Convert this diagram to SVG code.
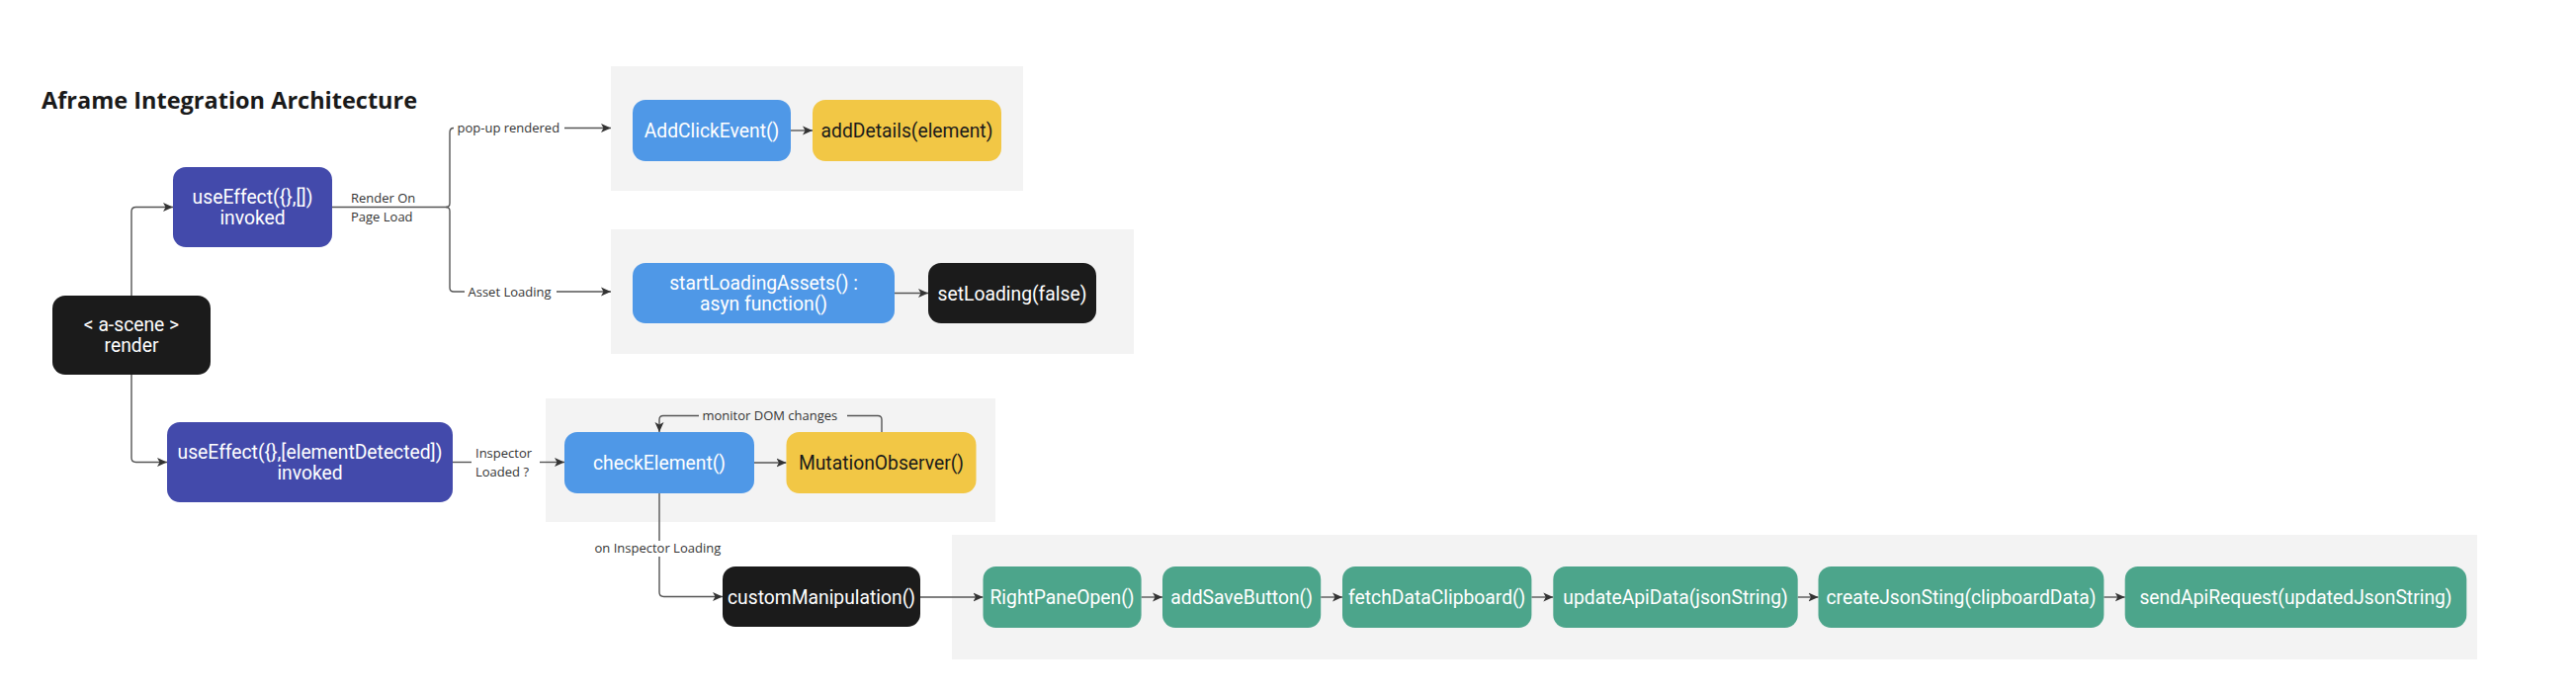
<svg xmlns="http://www.w3.org/2000/svg" width="2606" height="704" viewBox="0 0 2606 704">
<defs>
<style>
.bg{fill:#ffffff}
.cont{fill:#f3f3f3}
.node rect{rx:13;ry:13}
.purple{fill:#434aab}
.blue{fill:#4f98e7}
.yellow{fill:#f2c745}
.black{fill:#1b1b1b}
.green{fill:#4ca58b}
.nt{font-family:Roboto,"Liberation Sans",sans-serif;font-size:19.3px;fill:#ffffff;text-anchor:middle}
.dk{fill:#1a1a1a}
.lbl{font-family:"Open Sans","Noto Sans","Liberation Sans",sans-serif;font-size:13px;fill:#333333}
.title{font-family:"Open Sans","Noto Sans","Liberation Sans",sans-serif;font-size:23.5px;font-weight:bold;fill:#1a1a1a}
.conn path{fill:none;stroke:#555555;stroke-width:1.4}
.arr{marker-end:url(#ah)}
</style>
<marker id="ah" markerUnits="userSpaceOnUse" markerWidth="12" markerHeight="10" refX="10" refY="5" orient="auto">
<path d="M0,0.5 L10,5 L0,9.5 L2.5,5 Z" fill="#333333"/>
</marker>
</defs>
<rect class="bg" x="0" y="0" width="2606" height="704"/>

<g id="containers">
<rect class="cont" x="618" y="67" width="417" height="126"/>
<rect class="cont" x="618" y="232" width="529" height="126"/>
<rect class="cont" x="552" y="403" width="455" height="125"/>
<rect class="cont" x="963" y="541" width="1543" height="126"/>
</g>

<text id="title" class="title" x="42" y="110">Aframe Integration Architecture</text>

<g id="connectors" class="conn">
<path class="arr" d="M133,299 V214 Q133,209.5 137.5,209.5 H175"/>
<path class="arr" d="M133,379 V463 Q133,467.5 137.5,467.5 H169"/>
<path d="M336,209.5 H451 Q455,209.5 455,205.5 V134 Q455,129.5 459,129.5"/>
<path d="M451,209.5 Q455,209.5 455,213.5 V291 Q455,295 459,295 H470"/>
<path class="arr" d="M571,129.5 H618"/>
<path class="arr" d="M563,295 H618"/>
<path class="arr" d="M800,132 H822"/>
<path class="arr" d="M905,296.5 H939"/>
<path d="M458,467.5 H477"/>
<path class="arr" d="M546,467.5 H571"/>
<path class="arr" d="M763,468 H795.5"/>
<path d="M892,437 V424.5 Q892,420.5 888,420.5 H857"/>
<path class="arr" d="M707,420.5 H671 Q667,420.5 667,424.5 V437"/>
<path d="M667,499 V547"/>
<path class="arr" d="M667,563 V599 Q667,603.5 671.5,603.5 H731"/>
<path class="arr" d="M931,604 H994.5"/>
<path class="arr" d="M1154.6,604 H1176"/>
<path class="arr" d="M1336.2,604 H1358"/>
<path class="arr" d="M1549.4,604 H1571.3"/>
<path class="arr" d="M1818.7,604 H1839.5"/>
<path class="arr" d="M2128.4,604 H2149.7"/>
</g>

<g id="labels">
<text class="lbl" x="355" y="205">Render On</text>
<text class="lbl" x="355" y="224">Page Load</text>
<text class="lbl" x="462.5" y="134">pop-up rendered</text>
<text class="lbl" x="473.5" y="300">Asset Loading</text>
<text class="lbl" x="481" y="462.5">Inspector</text>
<text class="lbl" x="481" y="481.5">Loaded ?</text>
<text class="lbl" x="710.5" y="424.5">monitor DOM changes</text>
<text class="lbl" x="601.5" y="559">on Inspector Loading</text>
</g>

<g id="n-ascene" class="node">
<rect class="black" x="53" y="299" width="160" height="80"/>
<text class="nt" x="133" y="335">&lt; a-scene &gt;</text>
<text class="nt" x="133" y="356">render</text>
</g>
<g id="n-useeffect1" class="node">
<rect class="purple" x="175" y="169" width="161" height="81"/>
<text class="nt" x="255.5" y="205.5">useEffect({},[])</text>
<text class="nt" x="255.5" y="226.5">invoked</text>
</g>
<g id="n-useeffect2" class="node">
<rect class="purple" x="169" y="427" width="289" height="81"/>
<text class="nt" x="313.5" y="463.5">useEffect({},[elementDetected])</text>
<text class="nt" x="313.5" y="484.5">invoked</text>
</g>
<g id="n-addclick" class="node">
<rect class="blue" x="640" y="101" width="160" height="62"/>
<text class="nt" x="720" y="139">AddClickEvent()</text>
</g>
<g id="n-adddetails" class="node">
<rect class="yellow" x="822" y="101" width="191" height="62"/>
<text class="nt dk" x="917.5" y="139">addDetails(element)</text>
</g>
<g id="n-startloading" class="node">
<rect class="blue" x="640" y="266" width="265" height="61"/>
<text class="nt" x="772.5" y="292.5">startLoadingAssets() :</text>
<text class="nt" x="772.5" y="313.5">asyn function()</text>
</g>
<g id="n-setloading" class="node">
<rect class="black" x="939" y="266" width="170" height="61"/>
<text class="nt" x="1024" y="303.5">setLoading(false)</text>
</g>
<g id="n-checkelement" class="node">
<rect class="blue" x="571" y="437" width="192" height="62"/>
<text class="nt" x="667" y="475">checkElement()</text>
</g>
<g id="n-mutation" class="node">
<rect class="yellow" x="795.5" y="437" width="192" height="62"/>
<text class="nt dk" x="891.5" y="475">MutationObserver()</text>
</g>
<g id="n-custom" class="node">
<rect class="black" x="731" y="573" width="200" height="61"/>
<text class="nt" x="831" y="610.5">customManipulation()</text>
</g>
<g id="n-rightpane" class="node">
<rect class="green" x="994.5" y="573" width="160.1" height="62"/>
<text class="nt" x="1074.5" y="611">RightPaneOpen()</text>
</g>
<g id="n-addsave" class="node">
<rect class="green" x="1176" y="573" width="160.2" height="62"/>
<text class="nt" x="1256.1" y="611">addSaveButton()</text>
</g>
<g id="n-fetch" class="node">
<rect class="green" x="1358" y="573" width="191.4" height="62"/>
<text class="nt" x="1453.7" y="611">fetchDataClipboard()</text>
</g>
<g id="n-update" class="node">
<rect class="green" x="1571.3" y="573" width="247.4" height="62"/>
<text class="nt" x="1695" y="611">updateApiData(jsonString)</text>
</g>
<g id="n-create" class="node">
<rect class="green" x="1839.5" y="573" width="288.9" height="62"/>
<text class="nt" x="1984" y="611">createJsonSting(clipboardData)</text>
</g>
<g id="n-send" class="node">
<rect class="green" x="2149.7" y="573" width="345.6" height="62"/>
<text class="nt" x="2322.5" y="611">sendApiRequest(updatedJsonString)</text>
</g>
</svg>
